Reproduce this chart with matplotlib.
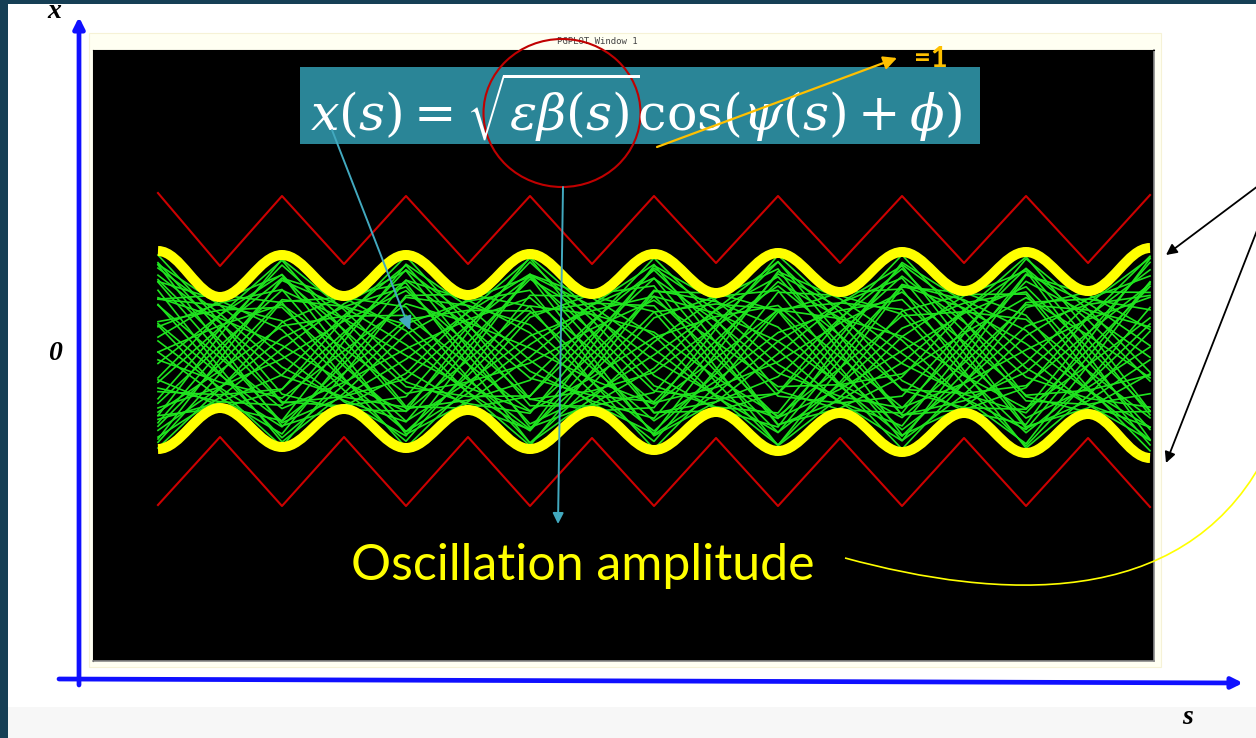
import matplotlib.pyplot as plt
import numpy as np
from matplotlib.path import Path
from matplotlib.patches import PathPatch, Rectangle, Ellipse

# quadrupole positions along s (in lattice cells), one every half cell
s_quad = [0.0, 0.5, 1.0, 1.5, 2.0, 2.5, 3.0, 3.5, 4.0, 4.5, 5.0, 5.5, 6.0, 6.5, 7.0, 7.5, 8.0]

# beta function (red zig-zag), upper branch and mirrored lower branch
beta_upper = [1.59, 0.86, 1.56, 0.88, 1.56, 0.88, 1.56, 0.88, 1.56, 0.89, 1.56, 0.89, 1.56, 0.89, 1.56, 0.89, 1.57]
beta_lower = [-1.53, -0.85, -1.54, -0.85, -1.54, -0.85, -1.54, -0.86, -1.54, -0.86, -1.54, -0.86, -1.54, -0.86, -1.54, -0.86, -1.55]

# beam envelope sqrt(eps*beta(s)) (yellow)
env_upper = [1.01, 0.55, 0.97, 0.56, 0.97, 0.57, 0.98, 0.58, 0.98, 0.59, 0.99, 0.60, 1.00, 0.61, 1.00, 0.61, 1.04]
env_lower = [-0.97, -0.56, -0.95, -0.57, -0.96, -0.58, -0.97, -0.59, -0.98, -0.60, -0.99, -0.61, -1.00, -0.61, -1.01, -0.62, -1.06]

# tracked particles (green): envelope at the quads, betatron phase (deg) at the quads,
# and per-particle amplitude / initial phase
trk_env = [0.97, 0.57, 0.96, 0.58, 0.96, 0.58, 0.97, 0.59, 0.97, 0.60, 0.98, 0.60, 0.98, 0.61, 0.99, 0.61, 1.00]
psi_quad = [0, 58, 116, 174, 232, 290, 348, 406, 464, 522, 580, 638, 696, 754, 812, 870, 928]
trk_amp = [1.0, 0.93, 0.78, 0.99, 0.86, 0.64, 0.97, 0.9, 0.72, 1.0, 0.82, 0.95, 0.58, 0.98,
           0.88, 0.75, 1.0, 0.92, 0.68, 0.96, 0.84, 1.0, 0.62, 0.94, 0.8, 0.99, 0.87, 0.7,
           1.0, 0.91, 0.77, 0.97, 0.85, 0.55, 0.98, 0.89, 0.74, 1.0, 0.83, 0.95, 0.66, 0.99,
           0.9, 0.8]
trk_phase = [0, 8, 17, 25, 33, 41, 49, 57, 66, 74, 82, 90, 98, 107, 115, 123, 131, 139,
             148, 156, 164, 172, 180, 188, 197, 205, 213, 221, 229, 238, 246, 254, 262, 270,
             279, 287, 295, 303, 311, 320, 328, 336, 344, 352]

W, H = 1256, 738
fig = plt.figure(figsize=(W / 100, H / 100), dpi=100, facecolor='white')

# ---- background layer (slide frame, blue axes, labels) in pixel coords
bg = fig.add_axes([0, 0, 1, 1], zorder=0)
bg.set_xlim(0, W)
bg.set_ylim(H, 0)
bg.axis('off')
bg.add_patch(Rectangle((0, 707), W, 31, color='#f7f7f7', lw=0))
bg.add_patch(Rectangle((0, 0), 8, H, color='#163f55', lw=0))
bg.add_patch(Rectangle((0, 0), W, 4, color='#163f55', lw=0))
bg.add_patch(Rectangle((89, 33), 1072, 634, facecolor='#fffff2', edgecolor='#f6f2d6', lw=0.8))
bg.text(597, 42, 'PGPLOT Window 1', fontsize=6.5, family='DejaVu Sans Mono', color='#444444',
        ha='center', va='center')

blue = '#1010ff'
bg.annotate('', xy=(79, 17), xytext=(79, 685),
            arrowprops=dict(arrowstyle='-|>', color=blue, lw=3.4, mutation_scale=16, shrinkA=0, shrinkB=0))
bg.annotate('', xy=(1243, 683), xytext=(59, 679),
            arrowprops=dict(arrowstyle='-|>', color=blue, lw=3.4, mutation_scale=16, shrinkA=0, shrinkB=0))
lab = dict(family='Liberation Serif', style='italic', weight='bold', fontsize=20, color='black',
           ha='center', va='center')
bg.text(54, 11, 'x', **lab)
bg.text(55, 354, '0', **lab)
bg.text(1188, 718, 's', **lab)

# ---- PGPLOT panel in data coords
ax = fig.add_axes([93 / W, 77 / H, 1061 / W, 611 / H], zorder=1)
ax.set_facecolor('black')
ax.set_xlim(-0.524, 8.032)
ax.set_ylim(-3.09, 3.02)
ax.set_xticks([])
ax.set_yticks([])
for side in ['top', 'left']:
    ax.spines[side].set_color('black')
for side in ['right', 'bottom']:
    ax.spines[side].set_color('#8a8a8a')
    ax.spines[side].set_linewidth(1.2)

env = np.array(trk_env)
psi = np.radians(psi_quad)
for a, ph in zip(trk_amp, trk_phase):
    ax.plot(s_quad, a * env * np.cos(psi + np.radians(ph)), color='#1fe41f', lw=1.2, zorder=2)

ax.plot(s_quad, beta_upper, color='#cc0000', lw=1.5, zorder=3)
ax.plot(s_quad, beta_lower, color='#cc0000', lw=1.5, zorder=3)


def smooth_path(xs, ys, c=0.364):
    verts = [(xs[0], ys[0])]
    codes = [Path.MOVETO]
    for i in range(len(xs) - 1):
        h = xs[i + 1] - xs[i]
        verts += [(xs[i] + c * h, ys[i]), (xs[i + 1] - c * h, ys[i + 1]), (xs[i + 1], ys[i + 1])]
        codes += [Path.CURVE4] * 3
    return Path(verts, codes)


for ys in (env_upper, env_lower):
    ax.add_patch(PathPatch(smooth_path(s_quad, ys), fill=False, edgecolor='#ffff00', lw=7.2,
                           capstyle='butt', zorder=4))

# ---- annotation layer
top = fig.add_axes([0, 0, 1, 1], zorder=3)
top.set_xlim(0, W)
top.set_ylim(H, 0)
top.axis('off')
top.patch.set_alpha(0)

plt.rcParams['mathtext.fontset'] = 'dejavuserif'
top.add_patch(Rectangle((300, 67), 680, 77, color='#2a8597', lw=0))
top.text(310, 107, r'$x(s) = \sqrt{\varepsilon\beta(s)}\cos(\psi(s)+\phi)$', fontsize=36.5,
         color='white', ha='left', va='center')
top.add_patch(Ellipse((562, 113), 157, 148, fill=False, edgecolor='#c00000', lw=1.5))

orange = '#ffc000'
top.annotate('', xy=(897, 58), xytext=(657, 147),
             arrowprops=dict(arrowstyle='-|>', color=orange, lw=1.6, mutation_scale=20, shrinkA=0, shrinkB=0))
top.text(931, 59, '=1', fontsize=21, family='Lato', weight='bold', color=orange, ha='center', va='center')
top.annotate('', xy=(1257, 126), xytext=(997, 104),
             arrowprops=dict(arrowstyle='-|>', color=orange, lw=1.6, mutation_scale=20, shrinkA=0, shrinkB=0))

teal = '#42a9bf'
top.annotate('', xy=(410, 330), xytext=(332, 130),
             arrowprops=dict(arrowstyle='-|>', color=teal, lw=1.4, mutation_scale=20, shrinkA=0, shrinkB=0))
top.annotate('', xy=(558, 524), xytext=(563, 187),
             arrowprops=dict(arrowstyle='-|>', color=teal, lw=1.4, mutation_scale=16, shrinkA=0, shrinkB=0))

top.annotate('', xy=(1166, 255), xytext=(1258, 186),
             arrowprops=dict(arrowstyle='-|>', color='black', lw=1.3, mutation_scale=16, shrinkA=0, shrinkB=0))
top.annotate('', xy=(1166, 463), xytext=(1258, 228),
             arrowprops=dict(arrowstyle='-|>', color='black', lw=1.3, mutation_scale=16, shrinkA=0, shrinkB=0))

curve = Path([(845, 558), (1000, 600), (1180, 610), (1262, 462)],
             [Path.MOVETO, Path.CURVE4, Path.CURVE4, Path.CURVE4])
top.add_patch(PathPatch(curve, fill=False, edgecolor='#ffff00', lw=1.2))

top.text(583, 580, 'Oscillation amplitude', fontsize=36, family='Lato', color='#ffff00',
         ha='center', va='baseline')

fig.savefig('out.png', dpi=100, facecolor='white')
